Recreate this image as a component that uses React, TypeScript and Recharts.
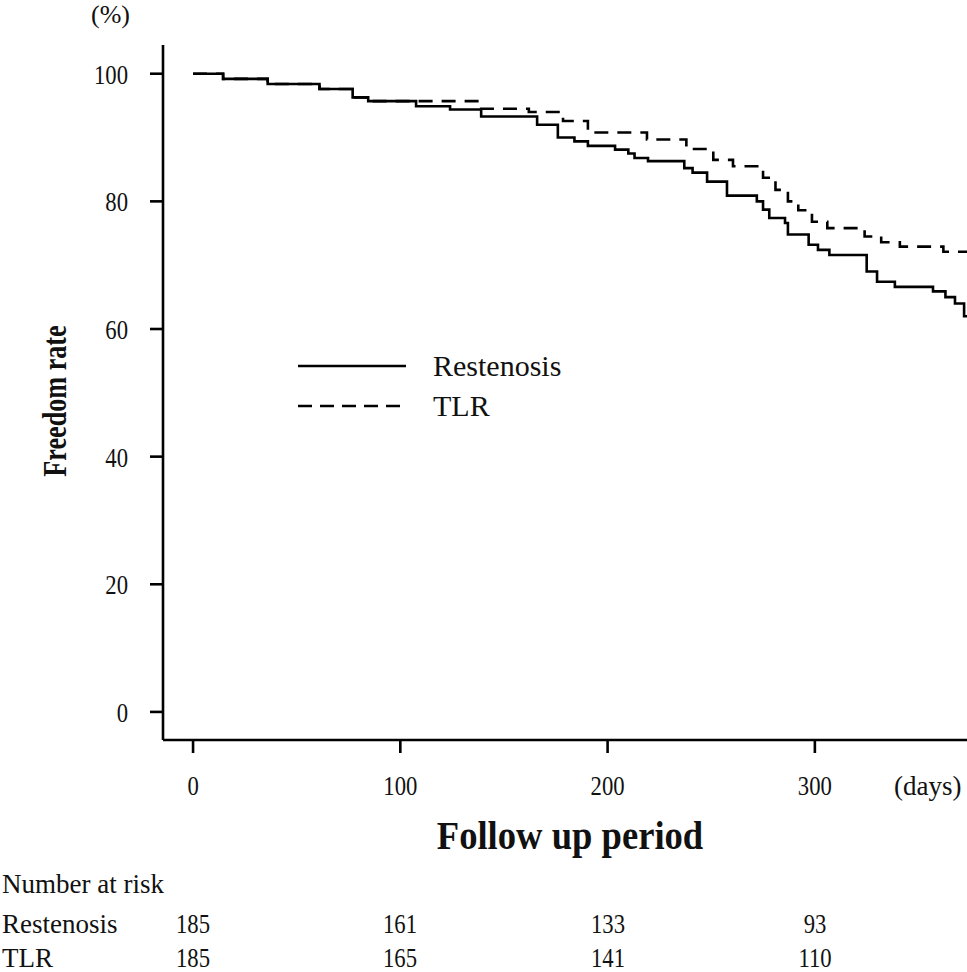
import { LineChart, Line, XAxis, YAxis, Legend } from 'recharts';

// Kaplan-Meier step points (day, freedom %)
const restenosisDays = [0, 14.5, 36, 61, 77, 84.5, 107.6, 124, 139, 166, 176, 184, 190.5, 203.6, 210, 213, 219.5, 237, 241, 248, 257.6, 272, 275, 278, 285.6, 287, 297, 301.5, 307, 325, 330, 338.6, 357, 363, 367.6, 372, 373.4];
const restenosisRate = [100, 99.2, 98.4, 97.6, 96.3, 95.7, 94.9, 94.4, 93.3, 92.0, 90.0, 89.4, 88.7, 88.1, 87.5, 86.8, 86.3, 85.2, 84.5, 83.1, 80.9, 80.0, 78.7, 77.4, 76.6, 74.8, 73.2, 72.4, 71.6, 69.0, 67.4, 66.6, 65.9, 65.0, 64.0, 62.0, 62.0];

const tlrDays = [0, 14.5, 36, 61, 77, 84.5, 139, 162, 178.5, 190.5, 219, 238, 251, 260.5, 275, 281, 287, 292, 298.6, 306, 324, 332, 341, 362, 373.4];
const tlrRate = [100, 99.2, 98.4, 97.6, 96.3, 95.7, 94.5, 94.0, 92.6, 90.8, 89.7, 88.2, 86.5, 85.5, 83.7, 81.8, 80.0, 78.6, 76.8, 75.8, 74.5, 73.6, 72.9, 72.1, 72.1];

const xTicks = [0, 100, 200, 300];
const yTicks = [0, 20, 40, 60, 80, 100];

const riskTimes = [0, 100, 200, 300];
const riskRestenosis = [185, 161, 133, 93];
const riskTLR = [185, 165, 141, 110];

const X_DOMAIN: [number, number] = [-14.5, 373.4];
const Y_DOMAIN: [number, number] = [-4.4, 104.5];

const W = 967;
const H = 972;
const PLOT_LEFT = 163;
const PLOT_TOP = 45;
const PLOT_BOTTOM = 740;

const FONT = '"Liberation Serif", "Times New Roman", serif';
const DIGIT_SIZE = 28;
const DIGIT_SQUEEZE = 0.81; // the original digits are tall and narrow

const restenosisData = restenosisDays.map((d, i) => ({ day: d, value: restenosisRate[i] }));
const tlrData = tlrDays.map((d, i) => ({ day: d, value: tlrRate[i] }));

// same linear mapping the x axis uses, for the number-at-risk table
const dayToPx = (d: number) =>
  PLOT_LEFT + ((d - X_DOMAIN[0]) / (X_DOMAIN[1] - X_DOMAIN[0])) * (W - PLOT_LEFT);

function NarrowTick(props: any) {
  const { x, y, payload, textAnchor, verticalAnchor } = props;
  const dy = verticalAnchor === 'start' ? '0.71em' : verticalAnchor === 'end' ? '0' : '0.355em';
  return (
    <g transform={`translate(${x},${y}) scale(${DIGIT_SQUEEZE},1)`}>
      <text x={0} y={0} dy={dy} textAnchor={textAnchor} fontSize={DIGIT_SIZE} fontFamily={FONT} fill="#111">
        {payload.value}
      </text>
    </g>
  );
}

function KMLegend() {
  const row = (dash: string | undefined, label: string) => (
    <div style={{ display: 'flex', alignItems: 'center', height: 40 }}>
      <svg width={110} height={10}>
        <line x1={0} y1={5} x2={108} y2={5} stroke="#000" strokeWidth={2.6} strokeDasharray={dash} />
      </svg>
      <span style={{ marginLeft: 25, fontSize: 30, fontFamily: FONT, color: '#111' }}>{label}</span>
    </div>
  );
  return (
    <div>
      {row(undefined, 'Restenosis')}
      {row('14 8', 'TLR')}
    </div>
  );
}

const textStyle = { position: 'absolute' as const, fontFamily: FONT, color: '#111', lineHeight: 1, whiteSpace: 'nowrap' as const };

export default function App() {
  return (
    <div style={{ position: 'absolute', left: 0, top: 0, width: W, height: H, background: '#fff', overflow: 'hidden' }}>
      <LineChart
        width={W}
        height={H}
        margin={{ top: PLOT_TOP, right: 0, bottom: 0, left: 0 }}
      >
        <XAxis
          dataKey="day"
          type="number"
          domain={X_DOMAIN}
          ticks={xTicks}
          allowDataOverflow
          height={H - PLOT_BOTTOM}
          axisLine={{ stroke: '#000', strokeWidth: 2.6 }}
          tickLine={{ stroke: '#000', strokeWidth: 2.6 }}
          tickSize={13}
          tickMargin={22}
          tick={<NarrowTick />}
        />
        <YAxis
          type="number"
          domain={Y_DOMAIN}
          ticks={yTicks}
          allowDataOverflow
          width={PLOT_LEFT}
          axisLine={{ stroke: '#000', strokeWidth: 2.6 }}
          tickLine={{ stroke: '#000', strokeWidth: 2.6 }}
          tickSize={13}
          tickMargin={22}
          tick={<NarrowTick />}
        />
        <Legend
          layout="horizontal"
          verticalAlign="middle"
          align="center"
          content={<KMLegend />}
          wrapperStyle={{ position: 'absolute', left: 298, top: 346, width: 320 }}
        />
        <Line
          data={restenosisData}
          dataKey="value"
          name="Restenosis"
          type="stepAfter"
          stroke="#000"
          strokeWidth={2.6}
          dot={false}
          isAnimationActive={false}
        />
        <Line
          data={tlrData}
          dataKey="value"
          name="TLR"
          type="stepAfter"
          stroke="#000"
          strokeWidth={2.6}
          strokeDasharray="14 9"
          dot={false}
          isAnimationActive={false}
        />
      </LineChart>

      <div style={{ ...textStyle, left: 91, top: 2, fontSize: 26 }}>(%)</div>
      <div style={{ ...textStyle, left: 894, top: 773, fontSize: 27 }}>(days)</div>
      <div
        style={{
          ...textStyle,
          left: 55,
          top: 401,
          fontSize: 34,
          fontWeight: 'bold',
          transform: 'translate(-50%, -50%) rotate(-90deg) scaleX(0.77)',
        }}
      >
        Freedom rate
      </div>
      <div
        style={{
          ...textStyle,
          left: 570,
          top: 836,
          fontSize: 40,
          fontWeight: 'bold',
          transform: 'translate(-50%, -50%) scaleX(0.915)',
        }}
      >
        Follow up period
      </div>

      <div style={{ ...textStyle, left: 2, top: 871, fontSize: 27 }}>Number at risk</div>
      <div style={{ ...textStyle, left: 2, top: 911, fontSize: 27 }}>Restenosis</div>
      <div style={{ ...textStyle, left: 2, top: 945, fontSize: 27 }}>TLR</div>
      {riskTimes.map((t, i) => (
        <div
          key={`r${t}`}
          style={{ ...textStyle, left: dayToPx(t), top: 910, fontSize: DIGIT_SIZE, transform: `translateX(-50%) scaleX(${DIGIT_SQUEEZE})` }}
        >
          {riskRestenosis[i]}
        </div>
      ))}
      {riskTimes.map((t, i) => (
        <div
          key={`t${t}`}
          style={{ ...textStyle, left: dayToPx(t), top: 944, fontSize: DIGIT_SIZE, transform: `translateX(-50%) scaleX(${DIGIT_SQUEEZE})` }}
        >
          {riskTLR[i]}
        </div>
      ))}
    </div>
  );
}
